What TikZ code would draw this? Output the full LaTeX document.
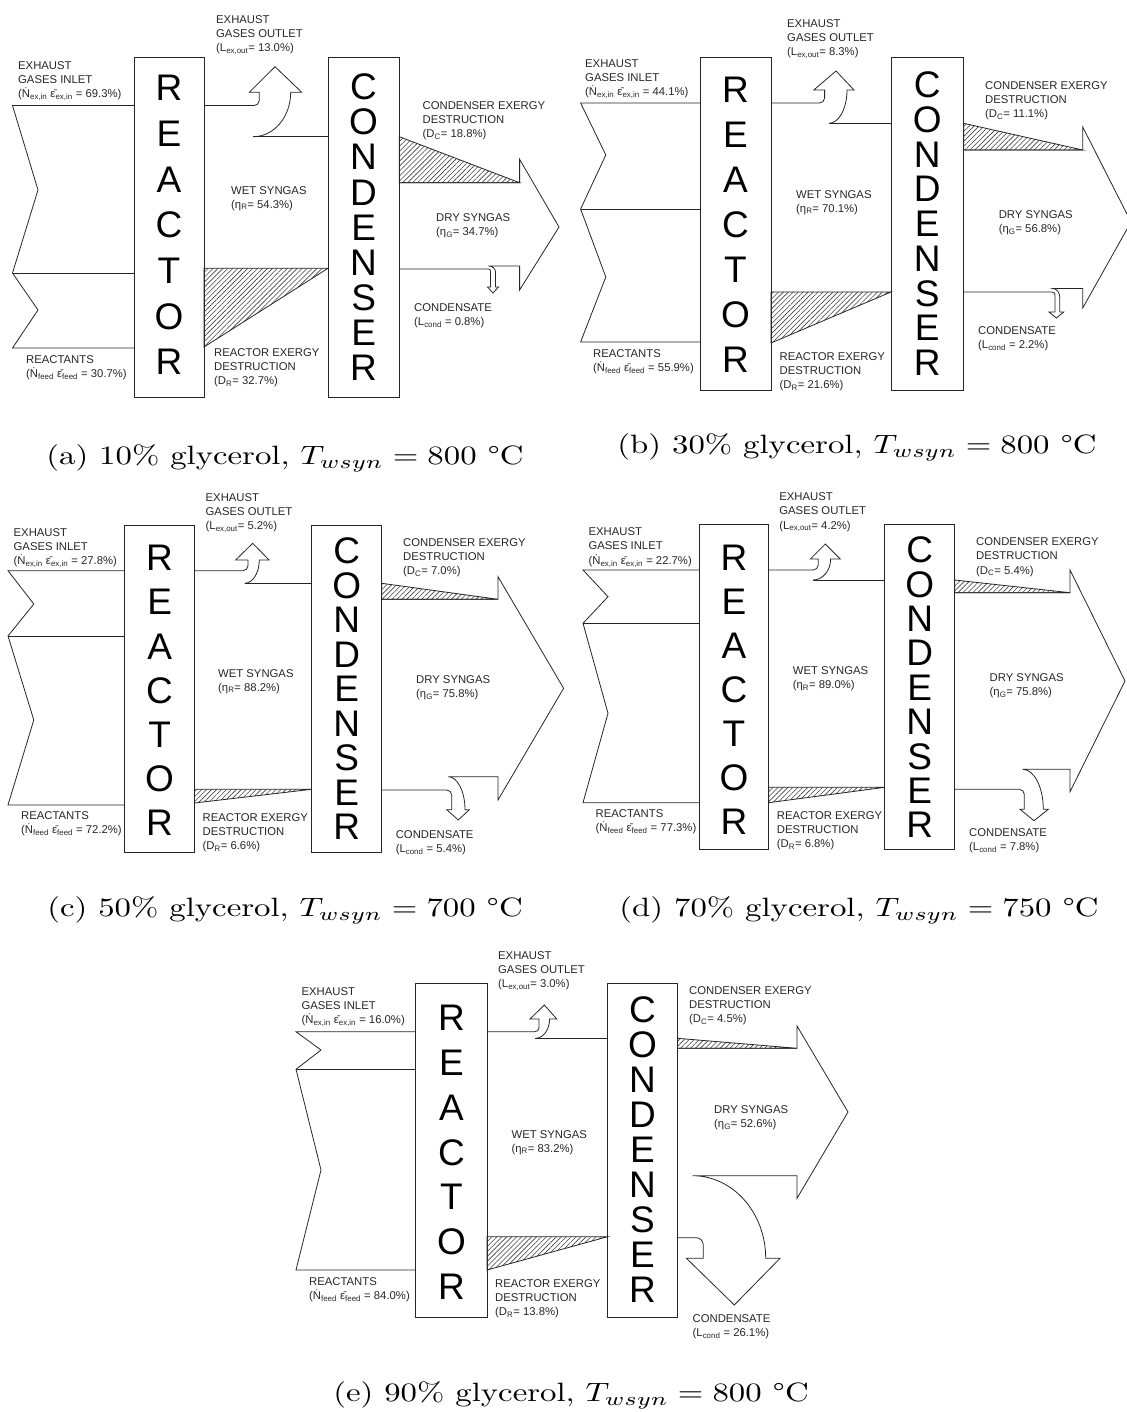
\documentclass[tikz,border=0pt]{standalone}
\usepackage{graphicx}
\usepackage{fontspec}
\newfontfamily\arial{Liberation Sans}
\usetikzlibrary{patterns.meta}

% dotted N and barred epsilon (combining marks)
\newcommand{\Ndot}{N^^^^0307}
\newcommand{\ebar}{ε^^^^0304}

% stream labels
\newcommand{\labin}[1]{EXHAUST\\GASES INLET\\(\Ndot\textsubscript{ex,in} \ebar\textsubscript{ex,in} = #1\%)}
\newcommand{\labfeed}[1]{REACTANTS\\(\Ndot\textsubscript{feed} \ebar\textsubscript{feed} = #1\%)}
\newcommand{\labout}[1]{EXHAUST\\GASES OUTLET\\(L\textsubscript{ex,out}= #1\%)}
\newcommand{\labwet}[1]{WET SYNGAS\\(η\textsubscript{R}= #1\%)}
\newcommand{\labdr}[1]{REACTOR EXERGY\\DESTRUCTION\\(D\textsubscript{R}= #1\%)}
\newcommand{\labdc}[1]{CONDENSER EXERGY\\DESTRUCTION\\(D\textsubscript{C}= #1\%)}
\newcommand{\labdry}[1]{DRY SYNGAS\\(η\textsubscript{G}= #1\%)}
\newcommand{\labcond}[1]{CONDENSATE\\(L\textsubscript{cond} = #1\%)}
\newcommand{\captxt}[3]{\scalebox{3.28}[2.65]{(#1) #2\% glycerol, $T_{wsyn} = #3$ \textdegree C}}

\begin{document}
\begin{tikzpicture}[x=1pt, y=-1pt,
    flow/.style={line width=0.8pt, draw=black!85},
    hatch/.style={line width=0.8pt, draw=black!85, pattern={Lines[angle=45, distance=3.5pt, line width=0.6pt]}, pattern color=black!75},
    unit/.style={draw=black!85, line width=0.9pt, inner sep=0},
    letter/.style={font=\arial\fontsize{37}{37}\selectfont, inner sep=0},
    lbl/.style={font=\arial\fontsize{11.3}{14.2}\selectfont, align=left, anchor=north west, inner sep=0, text=black!85},
    capt/.style={inner sep=0}]
    \useasboundingbox (0,0) rectangle (1126,1412);

    %% (a) 10% glycerol
    % units
    \node[unit, minimum width=70, minimum height=340] (reacA) at (169,227) {};
    \node[unit, minimum width=71.3, minimum height=340] (condA) at (363.6,227) {};
    \foreach \letr [count=\i from 0] in {R,E,A,C,T,O,R}
        \node[letter] (rA\i) at (169,{88+45.7*\i}) {\letr};
    \foreach \letr [count=\i from 0] in {C,O,N,D,E,N,S,E,R}
        \node[letter] (cA\i) at (363.6,{87+35.1*\i}) {\letr};
    % exhaust inlet and reactants
    \draw[flow] (134,105.5) -- (12.5,105.5) -- (38,190) -- (12.5,273) -- (38,310) -- (12.5,348) -- (134,348);
    \draw[flow] (12.5,273) -- (134,273);
    % exhaust outlet
    \draw[flow] (204,105.5) -- (254.3,105.5) arc[start angle=90, end angle=0, radius=5] -- (259.3,92.3) -- (249.3,92.3) -- (275,66.7) -- (301.7,92.3) -- (290.7,92.3) arc[start angle=0, end angle=90, x radius=37.4, y radius=44.4];
    \draw[flow] (253.3,136.7) -- (328,136.7);
    % exergy destruction
    \draw[hatch] (204,268.3) -- (328,268.3) -- (204,347) -- cycle;
    \draw[hatch] (399.3,136.7) -- (399.3,182.7) -- (519.6,182.7) -- cycle;
    % dry syngas and condensate
    \draw[flow] (399.3,182.7) -- (519.6,182.7) -- (519.6,159.3) -- (559,227) -- (519.6,290) -- (519.6,266) -- (488.5,266) arc[start angle=-90, end angle=0, x radius=7, y radius=6] -- (495.5,287) -- (498.5,287) -- (493,293) -- (487.5,287) -- (490.5,287) -- (490.5,271) arc[start angle=0, end angle=-90, radius=2] -- (399.3,269);
    % labels
    \node[lbl] (inA) at (18,61) {\labin{69.3}};
    \node[lbl] (feedA) at (26,355) {\labfeed{30.7}};
    \node[lbl] (outA) at (216,15.5) {\labout{13.0}};
    \node[lbl] (wetA) at (231,186) {\labwet{54.3}};
    \node[lbl] (drA) at (214,348) {\labdr{32.7}};
    \node[lbl] (dcA) at (422.5,101) {\labdc{18.8}};
    \node[lbl] (dryA) at (436,213) {\labdry{34.7}};
    \node[lbl] (condlA) at (414,303) {\labcond{0.8}};
    \node[capt] (capA) at (285,458) {\captxt{a}{10}{800}};

    %% (b) 30% glycerol
    \node[unit, minimum width=71, minimum height=333] (reacB) at (735.5,223.5) {};
    \node[unit, minimum width=72.6, minimum height=333] (condB) at (927.3,223.5) {};
    \foreach \letr [count=\i from 0] in {R,E,A,C,T,O,R}
        \node[letter] (rB\i) at (735.5,{90+45*\i}) {\letr};
    \foreach \letr [count=\i from 0] in {C,O,N,D,E,N,S,E,R}
        \node[letter] (cB\i) at (927.3,{85+34.75*\i}) {\letr};
    \draw[flow] (700,103) -- (580.6,103) -- (605.8,155) -- (580.6,209) -- (605.8,277) -- (580.6,342) -- (700,342);
    \draw[flow] (580.6,209) -- (700,209);
    \draw[flow] (771,103) -- (819.6,103) arc[start angle=90, end angle=0, radius=5] -- (824.6,90) -- (813.8,90) -- (836,71) -- (854,90) -- (847,90) arc[start angle=0, end angle=90, x radius=18, y radius=33.3];
    \draw[flow] (829,123.3) -- (891,123.3);
    \draw[hatch] (771,292) -- (891,292) -- (771,343) -- cycle;
    \draw[hatch] (963.6,123.3) -- (963.6,150) -- (1082.7,150) -- cycle;
    \draw[flow] (963.6,150) -- (1082.7,150) -- (1082.7,127) -- (1131,222) -- (1082.7,308) -- (1082.7,288.5) -- (1052.8,288.5) arc[start angle=-90, end angle=0, x radius=7, y radius=9] -- (1059.8,312) -- (1063.6,312) -- (1056.4,318) -- (1049,312) -- (1055,312) -- (1055,295) arc[start angle=0, end angle=-90, radius=3] -- (963.6,292);
    \node[lbl] (inB) at (585,59) {\labin{44.1}};
    \node[lbl] (feedB) at (593,349) {\labfeed{55.9}};
    \node[lbl] (outB) at (787,19) {\labout{8.3}};
    \node[lbl] (wetB) at (796,190) {\labwet{70.1}};
    \node[lbl] (drB) at (779.5,352) {\labdr{21.6}};
    \node[lbl] (dcB) at (985,81) {\labdc{11.1}};
    \node[lbl] (dryB) at (998.6,210) {\labdry{56.8}};
    \node[lbl] (condlB) at (978,326) {\labcond{2.2}};
    \node[capt] (capB) at (857,447) {\captxt{b}{30}{800}};

    %% (c) 50% glycerol
    \node[unit, minimum width=69.8, minimum height=327] (reacC) at (159.6,688.5) {};
    \node[unit, minimum width=70.2, minimum height=327] (condC) at (346.7,688.5) {};
    \foreach \letr [count=\i from 0] in {R,E,A,C,T,O,R}
        \node[letter] (rC\i) at (159.6,{558+44.2*\i}) {\letr};
    \foreach \letr [count=\i from 0] in {C,O,N,D,E,N,S,E,R}
        \node[letter] (cC\i) at (346.7,{551+34.5*\i}) {\letr};
    \draw[flow] (124.7,570.7) -- (8,570.7) -- (33.8,604) -- (8,636) -- (33.8,720) -- (8,805) -- (124.7,805);
    \draw[flow] (8,636) -- (124.7,636);
    \draw[flow] (194.5,570.7) -- (243,570.7) arc[start angle=90, end angle=0, radius=5] -- (248,560) -- (235.6,560) -- (252.7,543.3) -- (269.1,560) -- (259.3,560) arc[start angle=0, end angle=90, x radius=14.6, y radius=23.3];
    \draw[flow] (244.7,583.3) -- (311.6,583.3);
    \draw[hatch] (194.5,789.3) -- (311.6,789.3) -- (194.5,803) -- cycle;
    \draw[hatch] (381.8,583.3) -- (381.8,599.3) -- (498,599.3) -- cycle;
    \draw[flow] (381.8,599.3) -- (498,599.3) -- (498,576.7) -- (563.6,688.3) -- (498,800) -- (498,776.7) -- (448.3,776.7) arc[start angle=-90, end angle=0, x radius=16.7, y radius=33] -- (469.3,809.7) -- (458.3,820) -- (446.7,809.7) -- (451.7,809.7) -- (451.7,795) arc[start angle=0, end angle=-90, radius=5] -- (381.8,790);
    \node[lbl] (inC) at (13.5,528) {\labin{27.8}};
    \node[lbl] (feedC) at (21,811) {\labfeed{72.2}};
    \node[lbl] (outC) at (205.5,493) {\labout{5.2}};
    \node[lbl] (wetC) at (218,669) {\labwet{88.2}};
    \node[lbl] (drC) at (202.5,813) {\labdr{6.6}};
    \node[lbl] (dcC) at (403,538) {\labdc{7.0}};
    \node[lbl] (dryC) at (416,675) {\labdry{75.8}};
    \node[lbl] (condlC) at (395.6,830) {\labcond{5.4}};
    \node[capt] (capC) at (285,910) {\captxt{c}{50}{700}};

    %% (d) 70% glycerol
    \node[unit, minimum width=69.2, minimum height=325] (reacD) at (734,686.8) {};
    \node[unit, minimum width=69.8, minimum height=325] (condD) at (919.8,686.8) {};
    \foreach \letr [count=\i from 0] in {R,E,A,C,T,O,R}
        \node[letter] (rD\i) at (734,{558+44*\i}) {\letr};
    \foreach \letr [count=\i from 0] in {C,O,N,D,E,N,S,E,R}
        \node[letter] (cD\i) at (919.8,{550+34.4*\i}) {\letr};
    \draw[flow] (699.4,570) -- (583,570) -- (608,596.7) -- (583,623.3) -- (608,713.3) -- (583,802.7) -- (699.4,802.7);
    \draw[flow] (583,623.3) -- (699.4,623.3);
    \draw[flow] (768.6,570) -- (813.2,570) arc[start angle=90, end angle=0, radius=5] -- (818.2,559) -- (810.4,559) -- (825.3,544) -- (840.2,559) -- (830.6,559) arc[start angle=0, end angle=90, x radius=17.6, y radius=21];
    \draw[flow] (813,580) -- (884.9,580);
    \draw[hatch] (768.6,787.3) -- (884.9,787.3) -- (768.6,802.7) -- cycle;
    \draw[hatch] (954.7,580) -- (954.7,592.7) -- (1070,592.7) -- cycle;
    \draw[flow] (954.7,592.7) -- (1070,592.7) -- (1070,570) -- (1125,681) -- (1070,791.7) -- (1070,769.3) -- (1022.7,769.3) arc[start angle=-90, end angle=0, x radius=20.6, y radius=40] -- (1048.3,809.3) -- (1034,820.7) -- (1020,809.3) -- (1024.3,809.3) -- (1024.3,794.3) arc[start angle=0, end angle=-90, radius=5] -- (954.7,789.3);
    \node[lbl] (inD) at (588.4,527.7) {\labin{22.7}};
    \node[lbl] (feedD) at (595.5,809.3) {\labfeed{77.3}};
    \node[lbl] (outD) at (779.2,492.7) {\labout{4.2}};
    \node[lbl] (wetD) at (792.7,666.7) {\labwet{89.0}};
    \node[lbl] (drD) at (776.7,811) {\labdr{6.8}};
    \node[lbl] (dcD) at (976,537.7) {\labdc{5.4}};
    \node[lbl] (dryD) at (989.5,673.7) {\labdry{75.8}};
    \node[lbl] (condlD) at (969,828.3) {\labcond{7.8}};
    \node[capt] (capD) at (859,910) {\captxt{d}{70}{750}};

    %% (e) 90% glycerol
    \node[unit, minimum width=71.3, minimum height=334] (reacE) at (451.35,1150.3) {};
    \node[unit, minimum width=70, minimum height=334] (condE) at (642.5,1150.3) {};
    \foreach \letr [count=\i from 0] in {R,E,A,C,T,O,R}
        \node[letter] (rE\i) at (451.4,{1018+44.8*\i}) {\letr};
    \foreach \letr [count=\i from 0] in {C,O,N,D,E,N,S,E,R}
        \node[letter] (cE\i) at (642.5,{1010+35*\i}) {\letr};
    \draw[flow] (415.7,1031.7) -- (296,1031.7) -- (321,1050) -- (296,1069.3) -- (321,1170) -- (296,1270) -- (415.7,1270);
    \draw[flow] (296,1069.3) -- (415.7,1069.3);
    \draw[flow] (487,1031.7) -- (535,1031.7) arc[start angle=90, end angle=0, radius=4] -- (539,1019) -- (530,1019) -- (544.3,1005) -- (556.8,1019) -- (549.6,1019) arc[start angle=0, end angle=90, x radius=14.2, y radius=19.3];
    \draw[flow] (535.4,1038.3) -- (607.5,1038.3);
    \draw[hatch] (487,1236.7) -- (607.5,1236.7) -- (487,1270) -- cycle;
    \draw[hatch] (677.5,1038.3) -- (677.5,1048.3) -- (797,1048.3) -- cycle;
    \draw[flow] (677.5,1048.3) -- (797,1048.3) -- (797,1026) -- (848,1112) -- (797,1198.3) -- (797,1175.7) -- (692.5,1175.7) arc[start angle=-90, end angle=0, x radius=73.2, y radius=82.6] -- (780,1258.3) -- (734.3,1305) -- (686.4,1258.3) -- (703.2,1258.3) -- (703.2,1244.7) arc[start angle=0, end angle=-90, radius=7] -- (677.5,1237.7);
    \node[lbl] (inE) at (301.4,987) {\labin{16.0}};
    \node[lbl] (feedE) at (309,1277) {\labfeed{84.0}};
    \node[lbl] (outE) at (498,951) {\labout{3.0}};
    \node[lbl] (wetE) at (511.4,1130) {\labwet{83.2}};
    \node[lbl] (drE) at (495,1279) {\labdr{13.8}};
    \node[lbl] (dcE) at (689,986) {\labdc{4.5}};
    \node[lbl] (dryE) at (714,1105) {\labdry{52.6}};
    \node[lbl] (condlE) at (692.5,1314) {\labcond{26.1}};
    \node[capt] (capE) at (571,1395) {\captxt{e}{90}{800}};
\end{tikzpicture}
\end{document}
